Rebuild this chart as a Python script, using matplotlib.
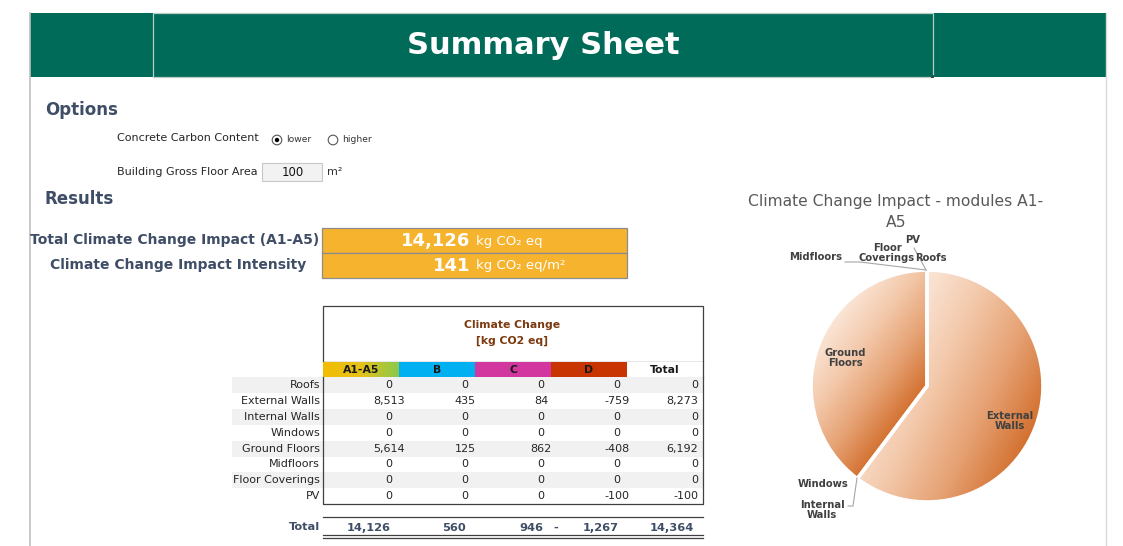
import numpy as np
import matplotlib
matplotlib.use("Agg")
import matplotlib.pyplot as plt
from matplotlib.patches import Rectangle, Circle
from matplotlib.colors import LinearSegmentedColormap

# ---------------- data ----------------
title = "Summary Sheet"
concrete_options = ["lower", "higher"]
selected_option = "lower"
gross_floor_area = 100
total_impact = 14126
impact_intensity = 141

components = ["Roofs", "External Walls", "Internal Walls", "Windows",
              "Ground Floors", "Midfloors", "Floor Coverings", "PV"]
modules = ["A1-A5", "B", "C", "D", "Total"]
a1a5 = [0, 8513, 0, 0, 5614, 0, 0, 0]
mod_b = [0, 435, 0, 0, 125, 0, 0, 0]
mod_c = [0, 84, 0, 0, 862, 0, 0, 0]
mod_d = [0, -759, 0, 0, -408, 0, 0, -100]
row_total = [0, 8273, 0, 0, 6192, 0, 0, -100]
col_totals = [14126, 560, 946, -1267, 14364]

pie_title = "Climate Change Impact - modules A1-\nA5"
pie_labels = ["Roofs", "External\nWalls", "Internal\nWalls", "Windows",
              "Ground\nFloors", "Midfloors", "Floor\nCoverings", "PV"]

# ---------------- figure ----------------
W, H = 1123, 546
fig = plt.figure(figsize=(W / 100, H / 100), dpi=100)
ax = fig.add_axes([0, 0, 1, 1])
ax.set_xlim(0, W)
ax.set_ylim(H, 0)
ax.axis("off")

FONT = "DejaVu Sans"
SLATE = "#3f4d66"


def T(x, y, s, size=8, weight="normal", color="#262626", ha="left", va="center", **kw):
    return ax.text(x, y, s, fontsize=size, fontweight=weight, color=color,
                   ha=ha, va=va, family=FONT, **kw)


# frame lines
ax.plot([30, 30], [13, H], color="#bfbfbf", lw=1.2)
ax.plot([1106, 1106], [13, H], color="#d9d9d9", lw=1.0)

# header band
ax.add_patch(Rectangle((30, 13), 1076, 64, facecolor="#006b59", edgecolor="none"))
ax.add_patch(Rectangle((153, 13), 780, 64, facecolor="none", edgecolor="#b9cfc4", lw=0.9))
ax.add_patch(Rectangle((931, 75), 3, 3, facecolor="#2f4f3f", edgecolor="none"))
T(543, 45, title, size=22, weight="bold", color="white", ha="center")

# options
T(45, 110, "Options", size=12, weight="bold", color=SLATE)
T(117, 138, "Concrete Carbon Content", size=8.0)
opt_x = [277, 333]
for ox, name in zip(opt_x, concrete_options):
    ax.add_patch(Circle((ox, 140), 4.8, facecolor="white", edgecolor="#555555", lw=0.8))
    if name == selected_option:
        ax.add_patch(Circle((ox, 140), 2.2, facecolor="black", edgecolor="none"))
    T(ox + 9, 140, name, size=6.6, color="#333333")

T(117, 172, "Building Gross Floor Area", size=8.0)
ax.add_patch(Rectangle((262, 163), 60, 18, facecolor="#f2f2f2", edgecolor="#c8c8c8", lw=0.8))
T(293, 172, f"{gross_floor_area}", size=8.4, ha="center", color="#111111")
T(327, 172, "m²", size=8.0, color="#333333")

# results
T(45, 199, "Results", size=12, weight="bold", color=SLATE)
T(319, 240, "Total Climate Change Impact (A1-A5)", size=10, weight="bold", color=SLATE, ha="right")
T(178, 265, "Climate Change Impact Intensity", size=10, weight="bold", color=SLATE, ha="center")

ORANGE = "#f6b32d"
for y0 in (228, 253):
    ax.add_patch(Rectangle((322, y0), 305, 25, facecolor=ORANGE, edgecolor="#8c8c8c", lw=0.9))
T(470, 241, f"{total_impact:,}", size=13, weight="bold", color="white", ha="right")
T(476, 241, "kg CO₂ eq", size=9.5, color="white")
T(470, 266, f"{impact_intensity:,}", size=13, weight="bold", color="white", ha="right")
T(476, 266, "kg CO₂ eq/m²", size=9.5, color="white")

# ---------------- table ----------------
tx0, tx1 = 323, 703
colw = 76
hdr_top, hdr_bot = 306, 362
row_top = 377
rowh = 15.9

ax.add_patch(Rectangle((tx0, hdr_top), tx1 - tx0, hdr_bot - hdr_top,
                       facecolor="white", edgecolor="#404040", lw=0.9))
T(512, 325, "Climate Change", size=7.8, weight="bold", color="#7b3a10", ha="center")
T(512, 341, "[kg CO2 eq]", size=7.8, weight="bold", color="#7b3a10", ha="center")

# module header cells
grad = np.linspace(0, 1, 64).reshape(1, -1)
ax.imshow(grad, extent=(tx0, tx0 + colw, row_top, hdr_bot), aspect="auto",
          cmap=LinearSegmentedColormap.from_list("yg", ["#f2bd00", "#e6c21a", "#8cc84b"]),
          zorder=2)
hdr_colors = [None, "#00b0f0", "#d2379f", "#c93500", "white"]
for i, (m, c) in enumerate(zip(modules, hdr_colors)):
    x0 = tx0 + i * colw
    if c is not None:
        ax.add_patch(Rectangle((x0, hdr_bot), colw, row_top - hdr_bot,
                               facecolor=c, edgecolor="none", zorder=2))
    T(x0 + colw / 2, (hdr_bot + row_top) / 2 + 0.5, m, size=7.8, weight="bold",
      color="#1a1a1a", ha="center", zorder=3)
ax.plot([tx1, tx1], [hdr_bot, row_top], color="#404040", lw=0.9, zorder=3)

cols = [a1a5, mod_b, mod_c, mod_d]
centers = [389, 465, 541, 617]
for r, name in enumerate(components):
    yc = row_top + rowh * (r + 0.5)
    if r in (0, 2, 4, 6):
        ax.add_patch(Rectangle((232, row_top + rowh * r), tx1 - 232, rowh,
                               facecolor="#f1f1f1", edgecolor="none", zorder=1))
    T(320, yc, name, size=8.0, ha="right", color="#262626", zorder=3)
    for cx, col in zip(centers, cols):
        T(cx, yc, f"{col[r]:,}", size=8.0, ha="center", color="#262626", zorder=3)
    T(698, yc, f"{row_total[r]:,}", size=8.0, ha="right", color="#262626", zorder=3)

tbl_bot = row_top + rowh * len(components)
ax.plot([tx0, tx0, tx1, tx1], [row_top, tbl_bot, tbl_bot, row_top], color="#404040", lw=0.9, zorder=3)

# totals row
ax.plot([tx0, tx1], [517, 517], color="#404040", lw=0.9)
ax.plot([tx0, tx1], [535, 535], color="#404040", lw=0.9)
ax.plot([tx0, tx1], [538, 538], color="#404040", lw=0.9)
T(320, 527, "Total", size=8.2, weight="bold", color=SLATE, ha="right")
tot_x = [369, 454, 531, 601, 672]
for i, (tx, v) in enumerate(zip(tot_x, col_totals)):
    s = f"{abs(v):,}"
    T(tx, 528, s, size=8.2, weight="bold", color=SLATE, ha="center")
    if v < 0:
        T(556, 528, "-", size=8.2, weight="bold", color=SLATE, ha="center")

# ---------------- pie ----------------
PCX, PCY, PR = 927, 386, 116
half = 1.5 * PR
pax = fig.add_axes([(PCX - half) / W, (H - PCY - half) / H, 2 * half / W, 2 * half / H])

wedges, _ = pax.pie(a1a5, startangle=90, counterclock=False, radius=1.0,
                    wedgeprops=dict(edgecolor="white", linewidth=2.6))
pax.set_aspect("equal")
pax.axis("off")


def P(x, y):
    return (x - PCX) / PR, (PCY - y) / PR


cmap = LinearSegmentedColormap.from_list("peach", ["#fbe6d8", "#f3c9ab", "#e6a274", "#d3702f"])
gx, gy = np.meshgrid(np.linspace(-1, 1, 300), np.linspace(1, -1, 300))
dirs = {1: (0.9, -0.44), 4: (0.75, -0.55)}
for idx, w in enumerate(wedges):
    if a1a5[idx] <= 0:
        continue
    ux, uy = dirs.get(idx, (0.7, -0.7))
    t = gx * ux + gy * uy
    th1, th2 = np.deg2rad(w.theta1), np.deg2rad(w.theta2)
    angs = np.linspace(th1, th2, 200)
    pts = np.concatenate([[0.0], np.cos(angs) * ux + np.sin(angs) * uy])
    t = (t - pts.min()) / (pts.max() - pts.min())
    w.set_facecolor("none")
    w.set_zorder(3)
    im = pax.imshow(np.clip(t, 0, 1), extent=(-1, 1, -1, 1), cmap=cmap, vmin=0, vmax=1,
                    zorder=2, interpolation="bilinear")
    im.set_clip_path(w)
pax.set_xlim(-1.5, 1.5)
pax.set_ylim(-1.5, 1.5)

LBL = dict(fontsize=7.2, fontweight="bold", color="#404040", family=FONT, ha="center", va="center")
pos = {
    "Roofs": (931, 258),
    "External\nWalls": (1010, 421),
    "Internal\nWalls": (822, 510),
    "Windows": (823, 484),
    "Ground\nFloors": (845, 358),
    "Midfloors": (816, 257),
    "Floor\nCoverings": (887, 253),
    "PV": (913, 240),
}
for lab in pie_labels:
    x, y = P(*pos[lab])
    pax.text(x, y, lab, zorder=5, linespacing=1.05, **LBL)

lc = "#a6a6a6"
for path in ([(845, 262), (860, 262), (926, 270)],
             [(914, 248), (926, 270)],
             [(857, 478), (853, 506), (848, 506)]):
    xs, ys = zip(*[P(*p) for p in path])
    pax.plot(xs, ys, color=lc, lw=0.8, zorder=4)

T(896, 212, pie_title, size=11.2, color="#595959", ha="center", linespacing=1.45)

fig.savefig("out.png", dpi=100)
